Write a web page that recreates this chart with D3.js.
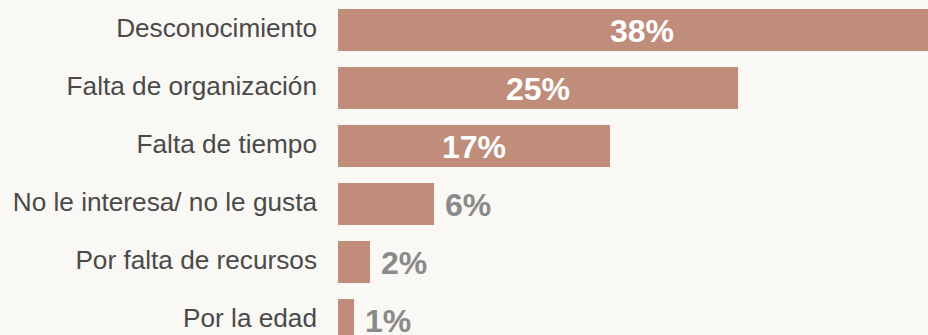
<!DOCTYPE html>
<html><head><meta charset="utf-8">
<script src="https://cdn.jsdelivr.net/npm/d3@7"></script>
<style>
html,body{margin:0;padding:0;background:#f9f8f4;overflow:hidden;}
svg{display:block;}
</style></head>
<body>
<script>
const categories = ["Desconocimiento","Falta de organización","Falta de tiempo","No le interesa/ no le gusta","Por falta de recursos","Por la edad"];
const values = [38,25,17,6,2,1];
const valueLabels = ["38%","25%","17%","6%","2%","1%"];

const W = 928, H = 335;
const svg = d3.select("body").append("svg").attr("width", W).attr("height", H);
svg.append("rect").attr("width", W).attr("height", H).attr("fill", "#f9f8f4");

const x0 = 338;
const x = d3.scaleLinear().domain([0, 40]).range([x0, x0 + 640]);
const y = d3.scaleBand().domain(categories).range([1, 349]).paddingInner(16/58).paddingOuter(8/58);

const data = categories.map((c,i)=>({c, v: values[i], l: valueLabels[i]}));

svg.selectAll("rect.bar").data(data).join("rect")
  .attr("class","bar")
  .attr("x", x(0))
  .attr("y", d=>y(d.c))
  .attr("width", d=>x(d.v)-x(0))
  .attr("height", y.bandwidth())
  .attr("fill", "#c08d7b");

svg.selectAll("text.cat").data(data).join("text")
  .attr("class","cat")
  .attr("x", 317)
  .attr("y", d=>y(d.c)+y.bandwidth()/2 - 2)
  .attr("dy","0.35em")
  .attr("text-anchor","end")
  .attr("font-family","'Liberation Sans', Arial, Helvetica, sans-serif")
  .attr("font-size", 26.2)
  .attr("fill","#4a4a4a")
  .text(d=>d.c);

svg.selectAll("text.val").data(data).join("text")
  .attr("class","val")
  .attr("x", d=> d.v >= 10 ? (x(0)+x(d.v))/2 : x(d.v)+11)
  .attr("y", d=>y(d.c)+y.bandwidth()/2)
  .attr("dy","0.36em")
  .attr("text-anchor", d=> d.v >= 10 ? "middle" : "start")
  .attr("font-family","'Liberation Sans', Arial, Helvetica, sans-serif")
  .attr("font-weight","bold")
  .attr("font-size", 32)
  .attr("fill", d=> d.v >= 10 ? "#ffffff" : "#8a8a8a")
  .text(d=>d.l);
</script>
</body></html>
